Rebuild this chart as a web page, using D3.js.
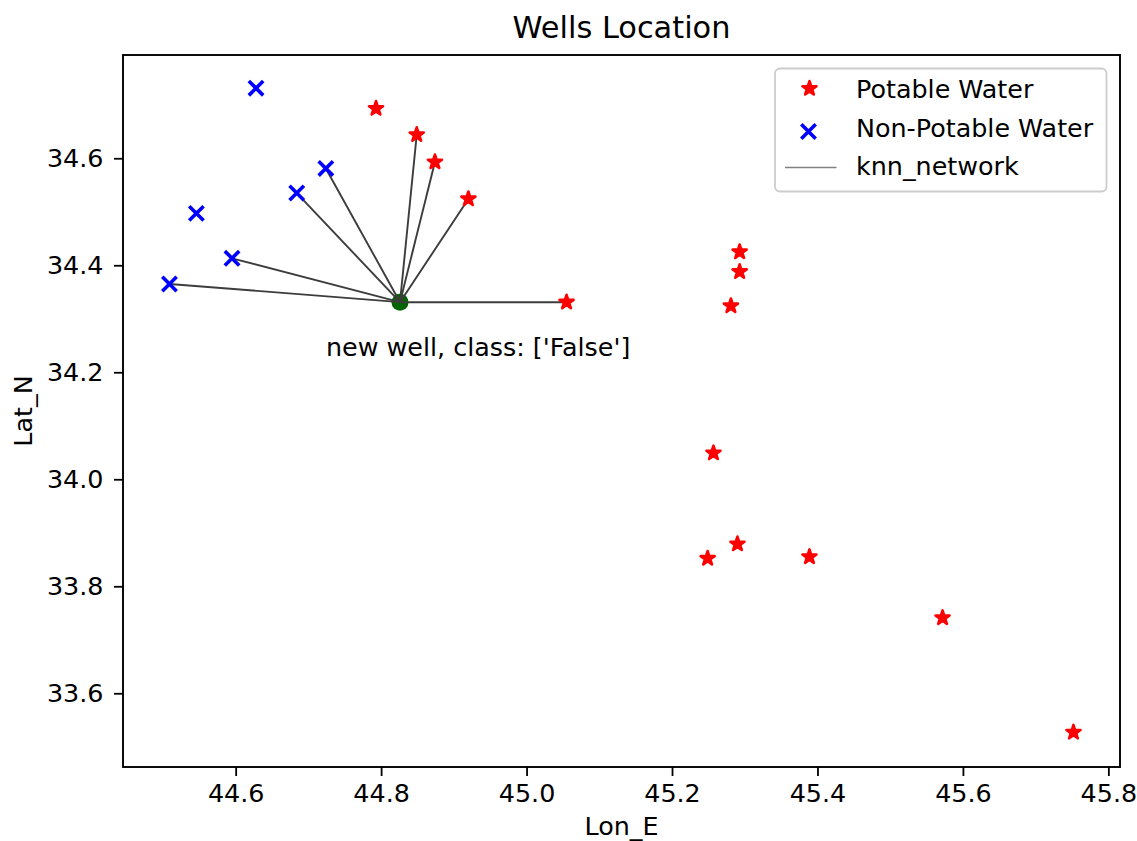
<!DOCTYPE html>
<html><head><meta charset="utf-8">
<script src="https://cdn.jsdelivr.net/npm/d3@7"></script>
<style>
body{margin:0;background:#fff}
svg{display:block}
text{font-family:"DejaVu Sans",sans-serif;fill:#000}
</style>
</head><body>
<svg id="c" width="1137" height="841"></svg>
<script>
// ---- data ----
const potableLon = [44.793, 44.849, 44.874, 44.920, 45.055, 45.293, 45.293, 45.281, 45.257, 45.249, 45.290, 45.389, 45.572, 45.752];
const potableLat = [34.693, 34.644, 34.593, 34.524, 34.331, 34.425, 34.388, 34.324, 34.049, 33.852, 33.879, 33.855, 33.741, 33.527];
const nonPotableLon = [44.628, 44.724, 44.684, 44.546, 44.595, 44.509];
const nonPotableLat = [34.731, 34.581, 34.535, 34.497, 34.413, 34.365];
const newWellLon = 44.826;
const newWellLat = 34.331;
const neighborPotable = [1, 2, 3, 4];
const neighborNonPotable = [1, 2, 4, 5];
const xTicks = [44.6, 44.8, 45.0, 45.2, 45.4, 45.6, 45.8];
const yTicks = [33.6, 33.8, 34.0, 34.2, 34.4, 34.6];
const legendLabels = ["Potable Water", "Non-Potable Water", "knn_network"];
const titleText = "Wells Location";
const xLabel = "Lon_E";
const yLabel = "Lat_N";
const annotation = "new well, class: ['False']";

// ---- layout ----
const L = 123, R = 1120, T = 55, B = 767;
const x = d3.scaleLinear().domain([44.4451, 45.816]).range([L, R]);
const y = d3.scaleLinear().domain([33.4622, 34.793]).range([B, T]);
const svg = d3.select("#c");
const FS = 25.4;

function starPath(Ro) {
  const ri = Ro * 0.381966;
  const pts = [];
  for (let i = 0; i < 10; i++) {
    const r = i % 2 === 0 ? Ro : ri;
    const a = -Math.PI / 2 + i * Math.PI / 5;
    pts.push([r * Math.cos(a), r * Math.sin(a)]);
  }
  return "M" + pts.map(p => p[0].toFixed(2) + "," + p[1].toFixed(2)).join("L") + "Z";
}
const xs = 7.2;
const xPath = `M${-xs},${-xs}L${xs},${xs}M${-xs},${xs}L${xs},${-xs}`;
const STAR = starPath(7.4);

// new well
svg.append("circle").attr("cx", x(newWellLon)).attr("cy", y(newWellLat)).attr("r", 8.5).attr("fill", "#006400");

// knn lines
const nbrs = neighborNonPotable.map(i => [nonPotableLon[i], nonPotableLat[i]])
  .concat(neighborPotable.map(i => [potableLon[i], potableLat[i]]));
svg.append("g").selectAll("line").data(nbrs).join("line")
  .attr("x1", x(newWellLon)).attr("y1", y(newWellLat))
  .attr("x2", d => x(d[0])).attr("y2", d => y(d[1]))
  .attr("stroke", "#3c3c3c").attr("stroke-width", 1.9);

// potable stars
svg.append("g").selectAll("path").data(potableLon).join("path")
  .attr("d", STAR)
  .attr("transform", (d, i) => `translate(${x(d)},${y(potableLat[i])})`)
  .attr("fill", "#ff0000").attr("stroke", "#ff0000").attr("stroke-width", 2.6).attr("stroke-linejoin", "round");

// non-potable X
svg.append("g").selectAll("path").data(nonPotableLon).join("path")
  .attr("d", xPath)
  .attr("transform", (d, i) => `translate(${x(d)},${y(nonPotableLat[i])})`)
  .attr("fill", "none").attr("stroke", "#0000ff").attr("stroke-width", 3.6);

// annotation
svg.append("text").attr("x", x(newWellLon) - 74).attr("y", y(newWellLat) + 54)
  .attr("font-size", FS).text(annotation);

// axes
const xa = svg.append("g").attr("transform", `translate(0,${B})`)
  .call(d3.axisBottom(x).tickValues(xTicks).tickFormat(d3.format(".1f")).tickSize(9).tickPadding(7.6));
const ya = svg.append("g").attr("transform", `translate(${L},0)`)
  .call(d3.axisLeft(y).tickValues(yTicks).tickFormat(d3.format(".1f")).tickSize(9).tickPadding(10.5));
[xa, ya].forEach(g => {
  g.select(".domain").remove();
  g.selectAll(".tick line").attr("stroke", "#000").attr("stroke-width", 1.8);
  g.selectAll(".tick text").attr("font-size", FS).attr("font-family", "DejaVu Sans").attr("fill", "#000");
});

// frame
svg.append("rect").attr("x", L).attr("y", T).attr("width", R - L).attr("height", B - T)
  .attr("fill", "none").attr("stroke", "#000").attr("stroke-width", 1.9);

// title & labels
svg.append("text").attr("x", (L + R) / 2).attr("y", 38).attr("text-anchor", "middle")
  .attr("font-size", 30.4).text(titleText);
svg.append("text").attr("x", (L + R) / 2).attr("y", 834.5).attr("text-anchor", "middle")
  .attr("font-size", FS).text(xLabel);
svg.append("text").attr("transform", `translate(31.5,${(T + B) / 2}) rotate(-90)`).attr("text-anchor", "middle")
  .attr("font-size", FS).text(yLabel);

// legend
const lg = svg.append("g");
lg.append("rect").attr("x", 775).attr("y", 68.5).attr("width", 331.5).attr("height", 123).attr("rx", 5)
  .attr("fill", "#fff").attr("fill-opacity", 0.8).attr("stroke", "#cccccc").attr("stroke-width", 1.8);
const rowBase = [97.7, 137.3, 175.3];
lg.append("path").attr("d", STAR).attr("transform", `translate(809.5,88.5)`)
  .attr("fill", "#ff0000").attr("stroke", "#ff0000").attr("stroke-width", 2.6).attr("stroke-linejoin", "round");
lg.append("path").attr("d", xPath).attr("transform", `translate(808.5,131.5)`)
  .attr("fill", "none").attr("stroke", "#0000ff").attr("stroke-width", 3.6);
lg.append("line").attr("x1", 785).attr("x2", 836.5).attr("y1", 167.5).attr("y2", 167.5)
  .attr("stroke", "#808080").attr("stroke-width", 1.6);
lg.selectAll("text.l").data(legendLabels).join("text").attr("class", "l")
  .attr("x", 856).attr("y", (d, i) => rowBase[i]).attr("font-size", FS).text(d => d);
</script>
</body></html>
